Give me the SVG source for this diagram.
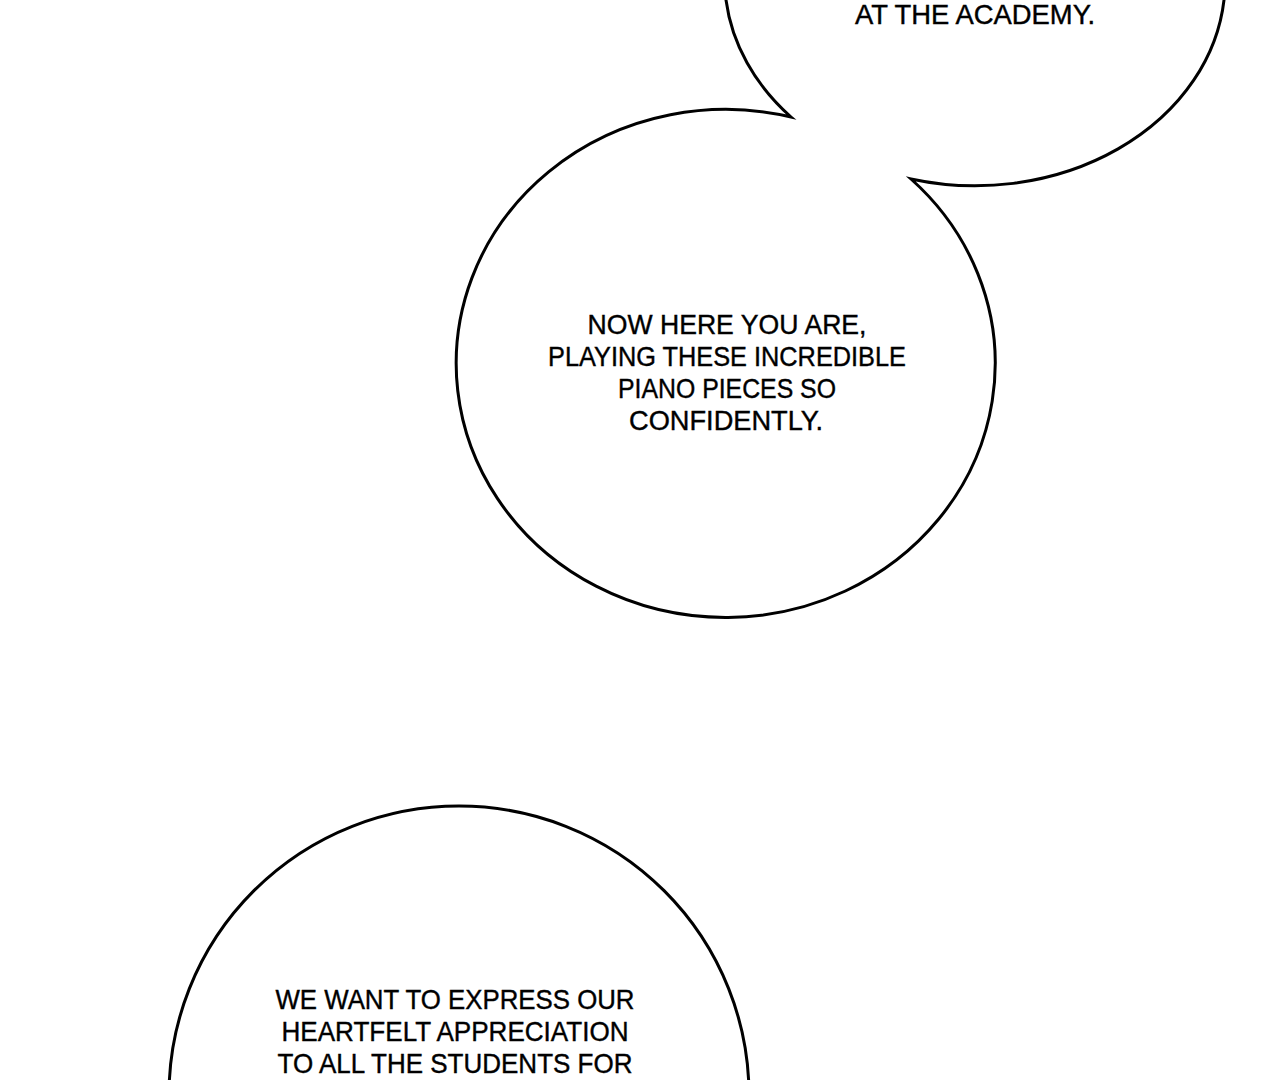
<svg xmlns="http://www.w3.org/2000/svg" width="1280" height="1080" viewBox="0 0 1280 1080">
<style>
.bubble{fill:#fff;stroke:#000;stroke-width:3;stroke-linejoin:miter;stroke-miterlimit:20}
.t{font-family:"Liberation Sans",Arial,sans-serif;font-size:28px;fill:#000;stroke:#000;stroke-width:0.4;text-anchor:middle}
</style>
<rect width="1280" height="1080" fill="#fff"/>
<g id="bubble-top-middle">
<path class="bubble" d="M 726 0 A 250.2 205 0 0 0 791 117 A 269.5 254 0 1 0 911 179 A 250.2 205 0 0 0 1224 0 L 1224 -10 L 726 -10 Z"/>
</g>
<g id="text-top">
<text class="t" x="975" y="24" textLength="240" lengthAdjust="spacingAndGlyphs">AT THE ACADEMY.</text>
</g>
<g id="text-middle">
<text class="t" x="727" y="334" textLength="279" lengthAdjust="spacingAndGlyphs">NOW HERE YOU ARE,</text>
<text class="t" x="727" y="366" textLength="358" lengthAdjust="spacingAndGlyphs">PLAYING THESE INCREDIBLE</text>
<text class="t" x="727" y="398" textLength="218" lengthAdjust="spacingAndGlyphs">PIANO PIECES SO</text>
<text class="t" x="726" y="430" textLength="194" lengthAdjust="spacingAndGlyphs">CONFIDENTLY.</text>
</g>
<g id="bubble-bottom">
<ellipse class="bubble" cx="459" cy="1095" rx="290" ry="289"/>
<text class="t" x="455" y="1009" textLength="359" lengthAdjust="spacingAndGlyphs">WE WANT TO EXPRESS OUR</text>
<text class="t" x="455" y="1041" textLength="347" lengthAdjust="spacingAndGlyphs">HEARTFELT APPRECIATION</text>
<text class="t" x="455" y="1073" textLength="355" lengthAdjust="spacingAndGlyphs">TO ALL THE STUDENTS FOR</text>
</g>
<g id="connectors"></g>
</svg>
